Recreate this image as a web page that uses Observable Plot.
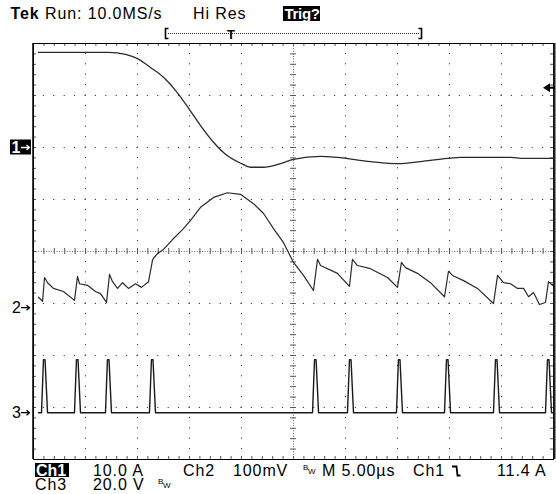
<!DOCTYPE html>
<html><head><meta charset="utf-8">
<script src="https://cdn.jsdelivr.net/npm/d3@7"></script>
<script src="https://cdn.jsdelivr.net/npm/@observablehq/plot@0.6"></script>
<style>
body{margin:0;background:#fff}
svg text{font-family:"Liberation Sans",Arial,sans-serif}
</style>
</head><body><div id="chart"></div>
<script>
// Time axis: µs (5 µs/div, 10 div); vertical values in screen divisions from centre
const ch1Time = [0.48,7.21,8.85,10.0,11.25,12.5,13.65,15.0,16.06,17.31,18.46,20.0,20.87,22.12,23.75,25.0,27.6,29.2,32.4,35.1,37.2,39.8,41.1,45.9,47.1,50.0];
const ch1Div  = [3.83,3.83,3.79,3.71,3.54,3.35,3.10,2.73,2.42,2.10,1.87,1.69,1.62,1.62,1.69,1.77,1.83,1.81,1.73,1.69,1.73,1.79,1.81,1.81,1.79,1.79];

const ch2Time = [0.48,0.87,1.06,1.35,1.92,2.88,3.94,4.23,4.42,5.19,5.96,6.44,7.02,7.31,7.60,8.08,8.56,9.13,9.81,10.38,11.06,11.44,11.54,11.92,12.5,13.37,14.33,15.10,16.06,17.31,18.65,19.90,21.15,22.12,23.08,24.04,25.0,25.96,26.92,27.31,27.60,29.23,30.38,30.67,31.15,32.40,34.04,35.0,35.38,35.77,36.92,38.17,39.52,39.90,40.29,41.35,42.69,44.23,44.62,45.19,45.87,46.54,47.12,47.60,48.08,48.65,49.23,49.52,49.90,50.0];
const ch2Div  = [-0.88,-0.96,-0.50,-0.60,-0.71,-0.77,-0.94,-0.48,-0.62,-0.65,-0.77,-0.81,-0.98,-0.44,-0.58,-0.71,-0.60,-0.71,-0.62,-0.69,-0.58,-0.17,-0.13,-0.04,0.04,0.23,0.42,0.60,0.85,1.04,1.13,1.10,0.92,0.73,0.44,0.17,-0.21,-0.46,-0.75,-0.15,-0.27,-0.42,-0.67,-0.15,-0.27,-0.33,-0.50,-0.69,-0.21,-0.31,-0.42,-0.60,-0.87,-0.38,-0.46,-0.56,-0.71,-1.0,-0.46,-0.60,-0.62,-0.71,-0.71,-0.87,-0.79,-1.02,-0.98,-0.58,-0.65,-0.62];

const ch3Time = [0.48,0.77,0.96,1.11,1.35,3.94,4.13,4.28,4.52,6.92,7.11,7.26,7.50,11.15,11.34,11.49,11.73,26.83,27.02,27.17,27.41,30.19,30.38,30.53,30.77,34.90,35.09,35.24,35.48,39.52,39.71,39.86,40.10,44.23,44.42,44.57,44.81,49.23,49.42,49.57,49.81,50.0];
const ch3Div  = [-3.10,-3.10,-2.08,-2.08,-3.10,-3.10,-2.08,-2.08,-3.10,-3.10,-2.08,-2.08,-3.10,-3.10,-2.08,-2.08,-3.10,-3.10,-2.08,-2.08,-3.10,-3.10,-2.08,-2.08,-3.10,-3.10,-2.08,-2.08,-3.10,-3.10,-2.08,-2.08,-3.10,-3.10,-2.08,-2.08,-3.10,-3.10,-2.08,-2.08,-3.10,-3.10];

// channel reference levels (div) and trigger
const channelLabels = ["1","2","3"];
const channelRefs = [2.0,-1.08,-3.10];
const ch1Scale = 10.0;      // A/div
const triggerLevel = 11.4;  // A

// readout texts
const headerTexts = ["Tek","Run: 10.0MS/s","Hi Res","Trig?"];
const footerRow1 = ["Ch1","10.0 A","Ch2","100mV","M 5.00µs","Ch1","11.4 A"];
const footerRow2 = ["Ch3","20.0 V"];

const toRows = (ts, vs) => ts.map((t,i)=>({t, v: vs[i]}));
const ch1 = toRows(ch1Time, ch1Div);
const ch2 = toRows(ch2Time, ch2Div);
const ch3 = toRows(ch3Time, ch3Div);

const xMinor = d3.range(0, 50.001, 1);
const yMinor = d3.range(-4, 4.001, 0.2);
const xMajor = [5,10,15,20,30,35,40,45];
const yMajor = [-3,-2,-1,1,2,3];
const PX = 50/520, PY = 8/416;

const plot = Plot.plot({
  width:556, height:494,
  marginLeft:33, marginRight:3, marginTop:43, marginBottom:35,
  x:{domain:[0,50], axis:null},
  y:{domain:[-4,4], axis:null},
  style:{background:"#fff", overflow:"visible"},
  marks:[
    Plot.ruleX(xMajor, {stroke:"#222", strokeDasharray:"1,9.4", strokeDashoffset:0.5}),
    Plot.ruleY(yMajor, {stroke:"#222", strokeDasharray:"1,9.4", strokeDashoffset:0.5}),
    Plot.ruleX([25], {stroke:"#666", strokeDasharray:"1,1.6"}),
    Plot.ruleY([0], {stroke:"#666", strokeDasharray:"1,1.6"}),
    Plot.ruleY(yMinor, {y:d=>d, x1:()=>25-3*PX, x2:()=>25+3*PX, stroke:"#555"}),
    Plot.ruleX(xMinor, {x:d=>d, y1:()=>-3*PY, y2:()=>3*PY, stroke:"#555"}),
    Plot.ruleX(xMinor, {x:d=>d, y1:()=>4, y2:()=>4-3*PY, stroke:"#555"}),
    Plot.ruleX(xMinor, {x:d=>d, y1:()=>-4, y2:()=>-4+3*PY, stroke:"#555"}),
    Plot.ruleY(yMinor, {y:d=>d, x1:()=>0, x2:()=>3*PX, stroke:"#555"}),
    Plot.ruleY(yMinor, {y:d=>d, x1:()=>50, x2:()=>50-3*PX, stroke:"#555"}),
    Plot.frame({stroke:"#000"}),
    Plot.ruleX([0], {stroke:"#000", strokeWidth:1.5, dx:-0.5}),
    Plot.ruleX([50], {stroke:"#222", strokeWidth:2, dx:1}),
    Plot.line(ch1, {x:"t", y:"v", stroke:"#2a2a2a", strokeWidth:1.3, curve:"monotone-x"}),
    Plot.line(ch2, {x:"t", y:"v", stroke:"#2a2a2a", strokeWidth:1.2}),
    Plot.line(ch3, {x:"t", y:"v", stroke:"#1a1a1a", strokeWidth:1.4})
  ]
});
document.getElementById("chart").appendChild(plot);

const svg = d3.select(plot);
const sy = plot.scale("y");
const g = svg.append("g").attr("font-size",16).attr("letter-spacing","0.9px")
  .attr("fill","#000").attr("text-anchor","start");

// header
const t0 = g.append("text").attr("x",10.5).attr("y",19);
t0.append("tspan").attr("font-weight","bold").text(headerTexts[0]);
t0.append("tspan").text(" " + headerTexts[1]);
g.append("text").attr("x",193).attr("y",19).text(headerTexts[2]);
g.append("rect").attr("x",283).attr("y",6).attr("width",37).attr("height",15).attr("fill","#000");
g.append("text").attr("x",284.5).attr("y",19).attr("fill","#fff").attr("font-weight","bold")
  .attr("font-size",15).attr("letter-spacing","-0.3px").text(headerTexts[3]);

// record bracket
g.append("line").attr("x1",168).attr("x2",420).attr("y1",33.5).attr("y2",33.5)
  .attr("stroke","#333").attr("stroke-dasharray","1,1");
g.append("path").attr("d","M168.5,28.5H165.5V38.5H168.5").attr("fill","none").attr("stroke","#000").attr("stroke-width",1.6);
g.append("path").attr("d","M418.5,28.5H421.5V38.5H418.5").attr("fill","none").attr("stroke","#000").attr("stroke-width",1.6);
g.append("text").attr("x",231).attr("y",38.5).attr("text-anchor","middle").attr("font-size",13)
  .attr("font-weight","bold").attr("fill","#000").attr("letter-spacing","0").text("T");

// channel markers
channelLabels.forEach((lab,i)=>{
  const y = sy.apply(channelRefs[i]);
  if (i===0) {
    g.append("rect").attr("x",10).attr("y",y-7.5).attr("width",21).attr("height",15).attr("fill","#000");
    g.append("text").attr("x",11.5).attr("y",y+6).attr("fill","#fff").attr("font-weight","bold").attr("font-size",16).text(lab);
  } else {
    g.append("text").attr("x",12).attr("y",y+6).attr("font-size",16).text(lab);
  }
  const c = i===0 ? "#fff" : "#000";
  g.append("path").attr("d",`M21,${y+0.5}H29.5M26.5,${y-2}L29.5,${y+0.5}L26.5,${y+3}`)
    .attr("fill","none").attr("stroke",c).attr("stroke-width",1.3);
});

// trigger level marker (right)
const ty = sy.apply(channelRefs[0] + triggerLevel/ch1Scale);
g.append("path").attr("d",`M543,${ty}L550,${ty-4.5}L550,${ty+4.5}Z`).attr("fill","#000");
g.append("line").attr("x1",549).attr("x2",555).attr("y1",ty).attr("y2",ty).attr("stroke","#000").attr("stroke-width",2);

// footer row 1
g.append("rect").attr("x",35).attr("y",463).attr("width",34).attr("height",14).attr("fill","#000");
g.append("text").attr("x",36).attr("y",476).attr("fill","#fff").attr("font-weight","bold").attr("letter-spacing","0").text(footerRow1[0]);
const row1X = [null,93,183,233,322,413,497];
for (let i=1;i<footerRow1.length;i++) g.append("text").attr("x",row1X[i]).attr("y",476).text(footerRow1[i]);
// bandwidth-limit marks
function bw(x,y){
  g.append("text").attr("x",x).attr("y",y).attr("font-size",8).attr("letter-spacing","0").text("B");
  g.append("text").attr("x",x+5).attr("y",y+4).attr("font-size",8).attr("letter-spacing","0").text("W");
}
bw(303,470);
bw(158,484);
// falling slope symbol
g.append("path").attr("d","M452,466.5H456.5L457.5,475.5H460.5").attr("fill","none").attr("stroke","#000").attr("stroke-width",1.8);
// footer row 2
g.append("text").attr("x",35).attr("y",490).text(footerRow2[0]);
g.append("text").attr("x",93).attr("y",490).text(footerRow2[1]);
</script>
</body></html>
